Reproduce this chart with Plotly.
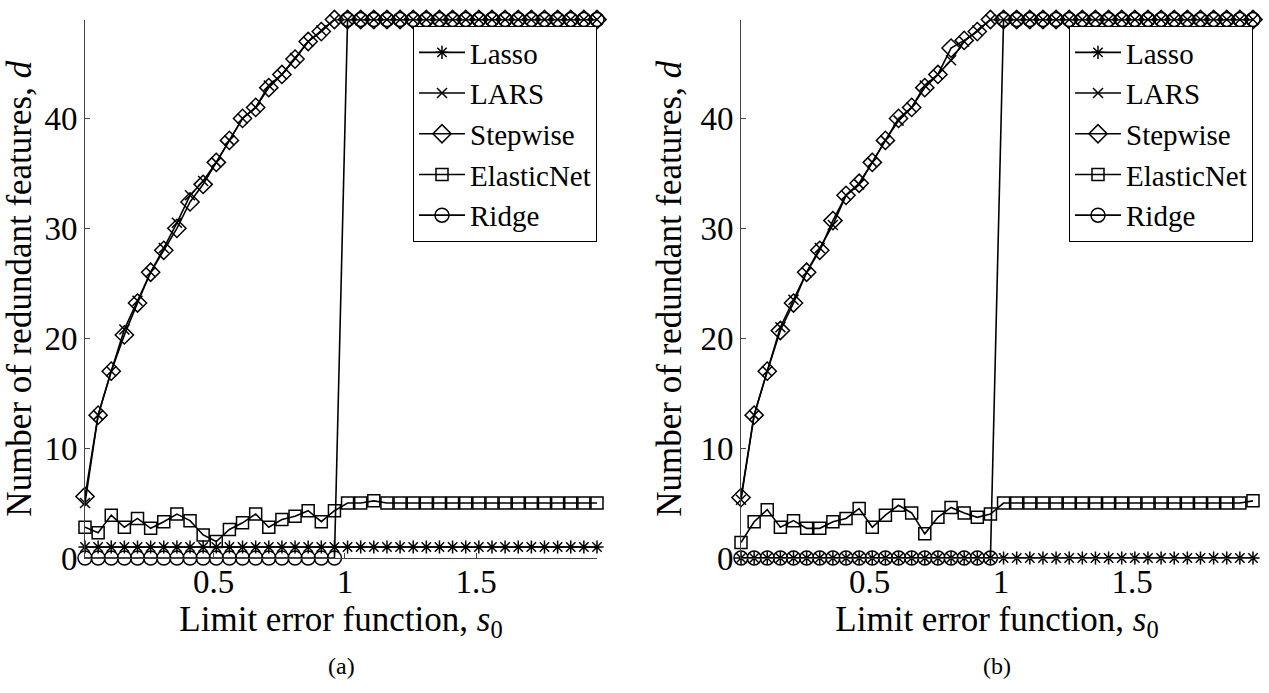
import plotly.graph_objects as go

# ---------------- data ----------------
s0 = [0.01, 0.06, 0.11, 0.16, 0.21, 0.26, 0.31, 0.36, 0.41, 0.46,
      0.51, 0.56, 0.61, 0.66, 0.71, 0.76, 0.81, 0.86, 0.91, 0.96,
      1.01, 1.06, 1.11, 1.16, 1.21, 1.26, 1.31, 1.36, 1.41, 1.46,
      1.51, 1.56, 1.61, 1.66, 1.71, 1.76, 1.81, 1.86, 1.91, 1.96]

methods = ["Lasso", "LARS", "Stepwise", "ElasticNet", "Ridge"]

# panel (a)
lasso_a = [1, 1, 1, 1, 1, 1, 1, 1, 1, 1, 1, 1, 1, 1, 1, 1, 1, 1, 1, 1,
           1, 1, 1, 1, 1, 1, 1, 1, 1, 1, 1, 1, 1, 1, 1, 1, 1, 1, 1, 1]
lars_a = [5.0, 13.0, 17.0, 20.8, 23.4, 26.0, 28.2, 30.5, 33.0, 34.3,
          36.0, 38.0, 40.0, 41.0, 43.0, 44.0, 45.5, 47.0, 48.0, 49.0,
          49, 49, 49, 49, 49, 49, 49, 49, 49, 49,
          49, 49, 49, 49, 49, 49, 49, 49, 49, 49]
step_a = [5.6, 13.0, 17.0, 20.3, 23.2, 26.0, 28.0, 30.0, 32.4, 34.0,
          36.0, 38.0, 40.0, 41.0, 42.8, 44.0, 45.4, 47.0, 47.9, 49.0,
          49, 49, 49, 49, 49, 49, 49, 49, 49, 49,
          49, 49, 49, 49, 49, 49, 49, 49, 49, 49]
enet_a = [2.8, 2.3, 3.9, 2.8, 3.6, 2.7, 3.3, 4.0, 3.4, 2.1,
          1.5, 2.6, 3.2, 4.0, 2.8, 3.5, 3.8, 4.3, 3.3, 4.3,
          5.0, 5.0, 5.2, 5.0, 5.0, 5.0, 5.0, 5.0, 5.0, 5.0,
          5.0, 5.0, 5.0, 5.0, 5.0, 5.0, 5.0, 5.0, 5.0, 5.0]
ridge_a = [0, 0, 0, 0, 0, 0, 0, 0, 0, 0, 0, 0, 0, 0, 0, 0, 0, 0, 0, 0,
           49, 49, 49, 49, 49, 49, 49, 49, 49, 49,
           49, 49, 49, 49, 49, 49, 49, 49, 49, 49]

# panel (b)
lasso_b = [0, 0, 0, 0, 0, 0, 0, 0, 0, 0, 0, 0, 0, 0, 0, 0, 0, 0, 0, 0,
           0, 0, 0, 0, 0, 0, 0, 0, 0, 0, 0, 0, 0, 0, 0, 0, 0, 0, 0, 0]
lars_b = [5.3, 13.0, 17.0, 21.0, 23.5, 26.0, 28.2, 30.3, 33.0, 34.0,
          36.0, 38.0, 39.8, 41.0, 43.0, 44.0, 45.3, 47.0, 48.0, 49.0,
          49, 49, 49, 49, 49, 49, 49, 49, 49, 49,
          49, 49, 49, 49, 49, 49, 49, 49, 49, 49]
step_b = [5.5, 13.0, 17.0, 20.7, 23.2, 26.0, 28.0, 30.7, 33.0, 34.1,
          36.0, 38.0, 40.0, 41.0, 42.8, 44.0, 46.4, 47.1, 47.9, 49.0,
          49, 49, 49, 49, 49, 49, 49, 49, 49, 49,
          49, 49, 49, 49, 49, 49, 49, 49, 49, 49]
enet_b = [1.4, 3.3, 4.4, 2.8, 3.4, 2.7, 2.7, 3.3, 3.6, 4.5,
          2.8, 3.9, 4.8, 4.1, 2.2, 3.7, 4.6, 4.1, 3.7, 4.0,
          5.0, 5.0, 5.0, 5.0, 5.0, 5.0, 5.0, 5.0, 5.0, 5.0,
          5.0, 5.0, 5.0, 5.0, 5.0, 5.0, 5.0, 5.0, 5.0, 5.2]
ridge_b = [0, 0, 0, 0, 0, 0, 0, 0, 0, 0, 0, 0, 0, 0, 0, 0, 0, 0, 0, 0,
           49, 49, 49, 49, 49, 49, 49, 49, 49, 49,
           49, 49, 49, 49, 49, 49, 49, 49, 49, 49]

y_ticks = [0, 10, 20, 30, 40]
x_ticks = [0.5, 1, 1.5]
x_ticktext = ["0.5", "1", "1.5"]
x_title = "Limit error function, <i>s</i><sub>0</sub>"
y_title = "Number of redundant features, <i>d</i>"
captions = ["(a)", "(b)"]

# ---------------- style ----------------
FONT = "Liberation Serif"
symbols = {"Lasso": ("asterisk-open", 11), "LARS": ("x-thin-open", 10),
           "Stepwise": ("diamond-open", 14), "ElasticNet": ("square-open", 12),
           "Ridge": ("circle-open", 14)}

W, H = 1269, 693
fig = go.Figure()

panels = [
    ("x", "y", "legend", [lasso_a, lars_a, step_a, enet_a, ridge_a]),
    ("x2", "y2", "legend2", [lasso_b, lars_b, step_b, enet_b, ridge_b]),
]
for xa, ya, leg, series in panels:
    for name, vals in zip(methods, series):
        sym, sz = symbols[name]
        fig.add_trace(go.Scatter(
            x=s0, y=vals, name=name, mode="lines+markers",
            xaxis=xa, yaxis=ya, legend=leg, cliponaxis=False, showlegend=True,
            line=dict(color="black", width=1.6),
            marker=dict(symbol=sym, size=sz, color="black",
                        line=dict(color="black", width=1.5)),
        ))

y_dom = [1 - 558 / H, 1 - 19.5 / H]
x_doms = [[85 / W, 597 / W], [741 / W, 1253 / W]]

fig.update_layout(
    template="none",
    width=W, height=H, autosize=False,
    margin=dict(l=0, r=0, t=0, b=0),
    paper_bgcolor="white", plot_bgcolor="white",
    font=dict(family=FONT, color="black", size=33),
)
for i, xd in enumerate(x_doms):
    sfx = "" if i == 0 else str(i + 1)
    axis_common = dict(showline=True, linecolor="#444", linewidth=1, mirror=False,
                       showgrid=False, zeroline=False, ticks="inside", ticklen=5,
                       tickcolor="#444", tickfont=dict(family=FONT, size=33, color="black"))
    fig.update_layout(**{
        "xaxis" + sfx: dict(
            axis_common, domain=xd, range=[0.01, 1.96], tickvals=x_ticks,
            ticktext=x_ticktext, anchor="y" + sfx, ticklabelstandoff=-6,
            title=dict(text=x_title, font=dict(family=FONT, size=35, color="black"), standoff=0)),
        "yaxis" + sfx: dict(
            axis_common, domain=y_dom, range=[0, 49], tickvals=y_ticks,
            anchor="x" + sfx,
            title=dict(text=y_title, font=dict(family=FONT, size=35, color="black"), standoff=8)),
        "legend" + sfx: dict(
            x=xd[1], y=1 - 26 / H, xanchor="right", yanchor="top",
            bgcolor="white", bordercolor="black", borderwidth=1,
            font=dict(family=FONT, size=29, color="black"),
            itemwidth=46, tracegroupgap=0),
    })

for xd, cap in zip(x_doms, captions):
    fig.add_annotation(text=cap, xref="paper", yref="paper",
                       x=(xd[0] + xd[1]) / 2, y=1 - 666 / H,
                       showarrow=False, xanchor="center", yanchor="middle",
                       font=dict(family=FONT, size=24, color="black"))

fig.write_html("out.html")
